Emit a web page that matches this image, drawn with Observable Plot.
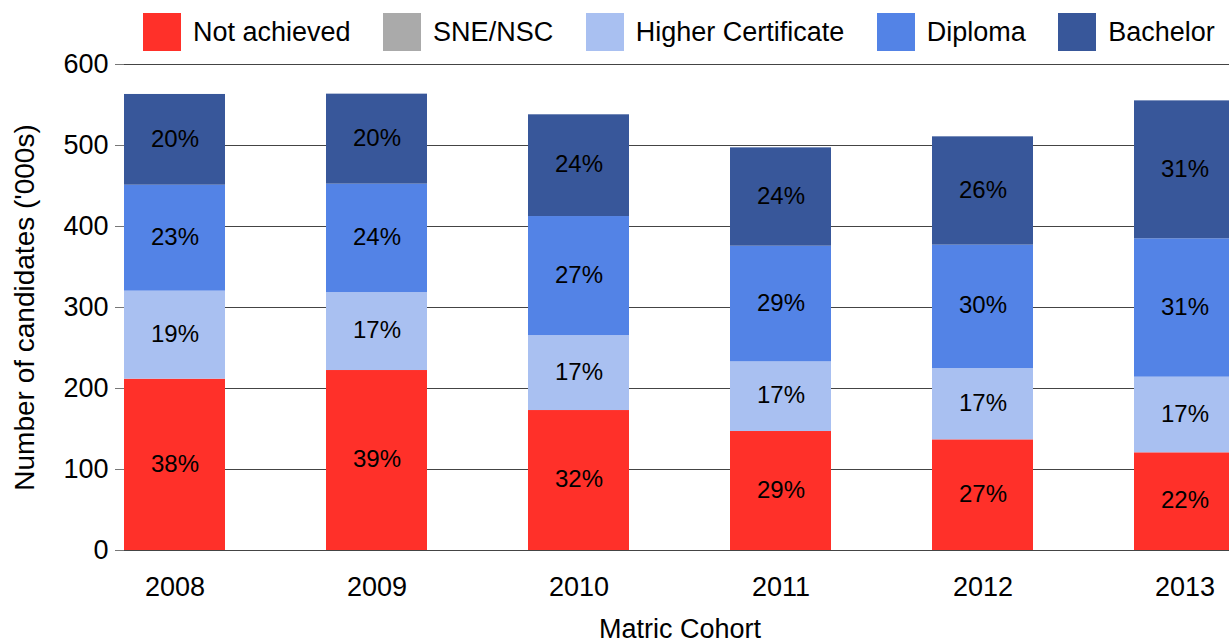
<!DOCTYPE html>
<html>
<head>
<meta charset="utf-8">
<script src="https://cdn.jsdelivr.net/npm/d3@7"></script>
<script src="https://cdn.jsdelivr.net/npm/@observablehq/plot@0.6"></script>
<style>
  html, body { margin: 0; padding: 0; background: #fff; overflow: hidden; }
  body { width: 1229px; height: 644px; position: relative; font-family: "Liberation Sans", Arial, sans-serif; }
  #legend { position: absolute; top: 13px; left: 143px; width: 1086px; display: flex; flex-wrap: nowrap; align-items: center; font-size: 27px; line-height: 38px; color: #000; z-index: 2; white-space: nowrap; }
  .item { display: flex; align-items: center; margin-right: 32.5px; flex-shrink: 0; white-space: nowrap; }
  .sw { width: 38px; height: 38px; margin-right: 12px; flex-shrink: 0; }
  #chart { position: absolute; top: 0; left: 0; }
  [aria-label="y-axis tick"] { stroke: #777; }
</style>
</head>
<body>
<div id="legend"></div>
<div id="chart"></div>
<script>
const years = ["2008", "2009", "2010", "2011", "2012", "2013"];
const series = ["Not achieved", "SNE/NSC", "Higher Certificate", "Diploma", "Bachelor"];
const colors = ["#ff3029", "#aaaaaa", "#a9c0f1", "#5383e6", "#38579a"];

// Number of candidates ('000s)
const notAchieved = [211.5, 222.2, 172.8, 146.9, 136.6, 120.6];
const sneNsc      = [0, 0, 0, 0, 0, 0];
const higherCert  = [108.7, 96.3, 92.6, 86.0, 88.1, 93.4];
const diploma     = [130.8, 133.8, 146.9, 142.8, 152.3, 170.8];
const bachelor    = [112.0, 111.1, 125.6, 121.4, 133.7, 170.3];

// Percentage labels shown in the segments
const pctNotAchieved = ["38%", "39%", "32%", "29%", "27%", "22%"];
const pctSneNsc      = ["", "", "", "", "", ""];
const pctHigherCert  = ["19%", "17%", "17%", "17%", "17%", "17%"];
const pctDiploma     = ["23%", "24%", "27%", "29%", "30%", "31%"];
const pctBachelor    = ["20%", "20%", "24%", "24%", "26%", "31%"];

const yTicks = [0, 100, 200, 300, 400, 500, 600];

const valueArrays = [notAchieved, sneNsc, higherCert, diploma, bachelor];
const labelArrays = [pctNotAchieved, pctSneNsc, pctHigherCert, pctDiploma, pctBachelor];

const rows = [];
series.forEach((s, i) => {
  years.forEach((y, j) => {
    rows.push({year: y, series: s, value: valueArrays[i][j], label: labelArrays[i][j]});
  });
});

// Legend
const legend = document.getElementById("legend");
series.forEach((s, i) => {
  const it = document.createElement("div");
  it.className = "item";
  const sw = document.createElement("div");
  sw.className = "sw";
  sw.style.background = colors[i];
  const tx = document.createElement("span");
  tx.textContent = s;
  it.appendChild(sw);
  it.appendChild(tx);
  legend.appendChild(it);
});

const chart = Plot.plot({
  width: 1229,
  height: 644,
  marginLeft: 124,
  marginRight: 0,
  marginTop: 64,
  marginBottom: 94,
  style: {fontFamily: "'Liberation Sans', Arial, sans-serif", fontSize: "27px", color: "#000", background: "#fff"},
  x: {domain: years, range: [124, 1235], paddingInner: 0.5, paddingOuter: 0, tickSize: 0, tickPadding: 26, label: null},
  y: {domain: [0, 600], ticks: yTicks, tickSize: 9, tickPadding: 7, label: null},
  color: {domain: series, range: colors},
  marks: [
    Plot.ruleY(yTicks, {stroke: "#444", strokeWidth: 1}),
    Plot.barY(rows, {x: "year", y: "value", fill: "series"}),
    Plot.text(rows, Plot.stackY({x: "year", y: "value", z: "series", text: d => d.value > 0 ? d.label : "", fontSize: 24, fill: "#000", dy: -1})),
    Plot.text(["Matric Cohort"], {text: d => d, frameAnchor: "bottom", lineAnchor: "middle", textAnchor: "middle", dy: 79, dx: 3, fontSize: 27}),
    Plot.text(["Number of candidates ('000s)"], {text: d => d, frameAnchor: "left", textAnchor: "middle", lineAnchor: "middle", rotate: -90, dx: -99, fontSize: 28})
  ]
});
document.getElementById("chart").appendChild(chart);
</script>
</body>
</html>
